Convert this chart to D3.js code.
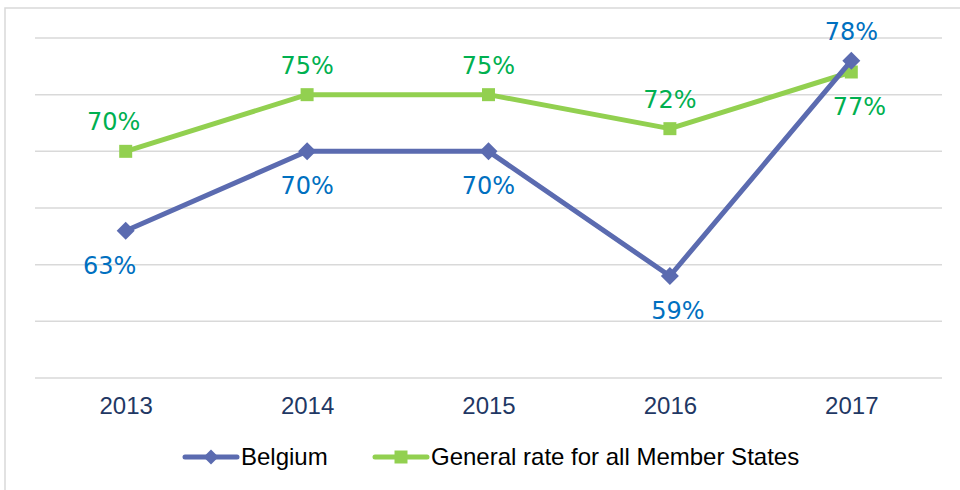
<!DOCTYPE html>
<html>
<head>
<meta charset="utf-8">
<script src="https://cdn.jsdelivr.net/npm/d3@7"></script>
<style>
    body { margin: 0; background: #fff; }
    svg { display: block; }
</style>
</head>
<body>
<div id="chart"></div>
<script>
    // data
    var years = ["2013", "2014", "2015", "2016", "2017"];
    var belgium = [63, 70, 70, 59, 78];
    var general = [70, 75, 75, 72, 77];
    var seriesNames = ["Belgium", "General rate for all Member States"];
    var gridValues = [50, 55, 60, 65, 70, 75, 80];

    // where excel put each data label (above / below the point, small nudge)
    var labelSide = {
        belgium: ["below", "below", "below", "below", "above"],
        general: ["above", "above", "above", "above", "below"]
    };
    var labelNudge = {
        belgium: [-16, 0, 0, 8, 0],
        general: [-12, 0, 0, 0, 8]
    };

    var width = 960, height = 490;
    var plot = { left: 35, right: 942, top: 38, bottom: 378 };

    var svg = d3.select("#chart").append("svg")
        .attr("width", width)
        .attr("height", height);

    // chart frame (only left and top edges fall inside the picture)
    svg.append("rect")
        .attr("x", 5)
        .attr("y", 8)
        .attr("width", 1000)
        .attr("height", 600)
        .attr("fill", "none")
        .attr("stroke", "#d9d9d9")
        .attr("stroke-width", 1.5);

    var x = d3.scalePoint()
        .domain(years)
        .range([plot.left, plot.right])
        .padding(0.5);

    var y = d3.scaleLinear()
        .domain([50, 80])
        .range([plot.bottom, plot.top]);

    // gridlines
    svg.append("g")
        .attr("class", "grid")
        .selectAll("line")
        .data(gridValues)
        .enter()
        .append("line")
        .attr("x1", plot.left)
        .attr("x2", plot.right)
        .attr("y1", function (d) { return y(d); })
        .attr("y2", function (d) { return y(d); })
        .attr("stroke", "#d9d9d9")
        .attr("stroke-width", 1.5);

    // x axis labels
    var xAxis = d3.axisBottom(x).tickSize(0).tickPadding(0);
    var gx = svg.append("g")
        .attr("class", "axis x")
        .attr("transform", "translate(0," + plot.bottom + ")")
        .call(xAxis);
    gx.select(".domain").remove();
    gx.selectAll("text")
        .attr("y", 36)
        .attr("dy", 0)
        .attr("font-family", "'Liberation Sans', Arial, sans-serif")
        .attr("font-size", 24)
        .attr("fill", "#1f3864");

    var blue = "#5b6bb0", green = "#92d050";

    var line = d3.line()
        .x(function (d, i) { return x(years[i]); })
        .y(function (d) { return y(d); });

    var diamond = function (s) {
        return "M0," + (-s) + "L" + s + ",0L0," + s + "L" + (-s) + ",0Z";
    };

    function drawSeries(values, color, marker) {
        var g = svg.append("g");
        g.append("path")
            .datum(values)
            .attr("d", line)
            .attr("fill", "none")
            .attr("stroke", color)
            .attr("stroke-width", 5)
            .attr("stroke-linejoin", "round");
        g.selectAll(".pt")
            .data(values)
            .enter()
            .append("path")
            .attr("class", "pt")
            .attr("transform", function (d, i) { return "translate(" + x(years[i]) + "," + y(d) + ")"; })
            .attr("d", marker)
            .attr("fill", color);
    }

    drawSeries(general, green, "M-6.5,-6.5H6.5V6.5H-6.5Z");
    drawSeries(belgium, blue, diamond(9));

    function drawLabels(values, sides, nudges, color) {
        svg.append("g")
            .selectAll("text")
            .data(values)
            .enter()
            .append("text")
            .attr("x", function (d, i) { return x(years[i]) + nudges[i]; })
            .attr("y", function (d, i) { return y(d) + (sides[i] == "above" ? -21 : 43); })
            .attr("text-anchor", "middle")
            .attr("font-family", "'DejaVu Sans', Verdana, sans-serif")
            .attr("font-size", 24)
            .attr("fill", color)
            .text(function (d) { return d + "%"; });
    }

    drawLabels(belgium, labelSide.belgium, labelNudge.belgium, "#0070c0");
    drawLabels(general, labelSide.general, labelNudge.general, "#00b050");

    // legend
    var legend = svg.append("g").attr("class", "legend");
    var legendItems = [
        { name: seriesNames[0], color: blue, marker: diamond(7.5), x: 183 },
        { name: seriesNames[1], color: green, marker: "M-6.5,-6.5H6.5V6.5H-6.5Z", x: 373 }
    ];
    var item = legend.selectAll("g")
        .data(legendItems)
        .enter()
        .append("g")
        .attr("transform", function (d) { return "translate(" + d.x + ",457)"; });
    item.append("line")
        .attr("x1", 2)
        .attr("x2", 54)
        .attr("stroke", function (d) { return d.color; })
        .attr("stroke-width", 5)
        .attr("stroke-linecap", "round");
    item.append("path")
        .attr("transform", "translate(28,0)")
        .attr("d", function (d) { return d.marker; })
        .attr("fill", function (d) { return d.color; });
    item.append("text")
        .attr("x", 58)
        .attr("y", 8)
        .attr("font-family", "'Liberation Sans', Arial, sans-serif")
        .attr("font-size", 24)
        .attr("fill", "#000")
        .text(function (d) { return d.name; });
</script>
</body>
</html>
